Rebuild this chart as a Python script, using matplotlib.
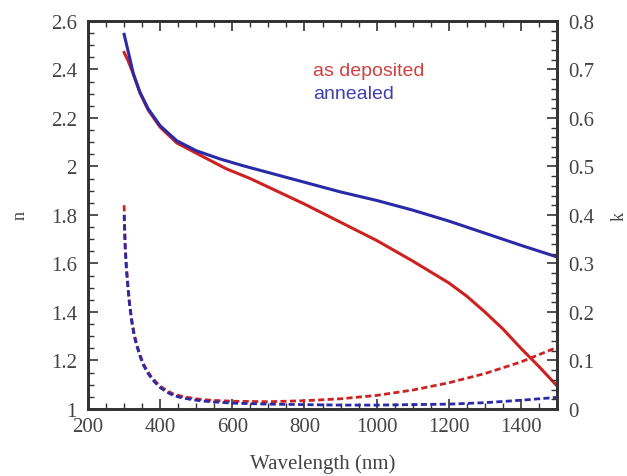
import matplotlib
matplotlib.use("Agg")
import matplotlib.pyplot as plt
from matplotlib.ticker import MultipleLocator, FormatStrFormatter

# n data (wavelength nm)
wl_red_n = [300, 310, 326, 344, 367, 400, 446, 500, 540, 584, 650, 700, 800,
            900, 1000, 1100, 1200, 1250, 1300, 1350, 1400, 1450, 1500]
red_n = [2.47, 2.44, 2.38, 2.303, 2.232, 2.162, 2.097, 2.055, 2.024, 1.99, 1.95,
         1.915, 1.845, 1.77, 1.695, 1.61, 1.52, 1.465, 1.40, 1.33, 1.25, 1.175, 1.095]
wl_blue_n = [300, 312, 326, 344, 367, 400, 446, 500, 566, 630, 700, 800, 900,
             1000, 1100, 1200, 1300, 1400, 1500]
blue_n = [2.545, 2.47, 2.38, 2.306, 2.237, 2.168, 2.106, 2.065, 2.031, 2.003,
          1.975, 1.935, 1.895, 1.86, 1.82, 1.775, 1.725, 1.675, 1.627]

# k data
wl_k = [300, 301, 303, 306, 310, 315, 321, 328, 335, 344, 353, 364, 376, 388,
        400, 418, 436, 460, 483, 510, 540, 600, 700, 800, 900, 1000, 1100,
        1200, 1300, 1400, 1500]
red_k = [0.42, 0.39, 0.34, 0.30, 0.26, 0.22, 0.185, 0.155, 0.134, 0.112, 0.094,
         0.079, 0.066, 0.056, 0.047, 0.038, 0.031, 0.026, 0.023, 0.020, 0.018,
         0.016, 0.015, 0.017, 0.021, 0.028, 0.039, 0.054, 0.073, 0.097, 0.127]
blue_k = [0.40, 0.375, 0.33, 0.29, 0.255, 0.215, 0.18, 0.15, 0.13, 0.109, 0.091,
          0.076, 0.063, 0.053, 0.044, 0.035, 0.028, 0.023, 0.020, 0.017, 0.015,
          0.012, 0.010, 0.009, 0.008, 0.008, 0.009, 0.010, 0.013, 0.018, 0.024]

labels = ["as deposited", "annealed"]
RED = "#cc2222"
BLUE = "#2a2aa8"

fig = plt.figure(figsize=(6.27, 4.77), dpi=100)
ax = fig.add_axes([0.1404, 0.1405, 0.748, 0.8134])
ax2 = ax.twinx()

serif = "Liberation Serif"

ax.plot(wl_red_n, red_n, color=RED, lw=2.2, zorder=3)
ax.plot(wl_blue_n, blue_n, color=BLUE, lw=2.2, zorder=4)
ax2.plot(wl_k, red_k, color=RED, lw=2.0, dashes=(2.2, 1.2))
ax2.plot(wl_k, blue_k, color=BLUE, lw=2.0, dashes=(2.2, 1.2))

ax.set_xlim(200, 1500)
ax.set_ylim(1, 2.6)
ax2.set_ylim(0, 0.8)

ax.xaxis.set_major_locator(MultipleLocator(200))
ax.xaxis.set_minor_locator(MultipleLocator(50))
ax.yaxis.set_major_locator(MultipleLocator(0.2))
ax.yaxis.set_minor_locator(MultipleLocator(0.05))
ax2.yaxis.set_major_locator(MultipleLocator(0.1))
ax2.yaxis.set_minor_locator(MultipleLocator(0.02))
ax.yaxis.set_major_formatter(FormatStrFormatter('%g'))
ax2.yaxis.set_major_formatter(FormatStrFormatter('%g'))

ax.tick_params(axis='both', which='both', direction='in', top=True, right=False,
               labelsize=15, colors='#333333', labelcolor='#444444')
ax.tick_params(which='major', length=7, width=1.2)
ax.tick_params(which='minor', length=4, width=1.0)
ax.tick_params(axis='x', pad=6)
ax.tick_params(axis='y', pad=8)
ax2.tick_params(axis='y', which='both', direction='in', labelsize=15,
                colors='#333333', labelcolor='#444444', pad=8)
ax2.tick_params(which='major', length=7, width=1.2)
ax2.tick_params(which='minor', length=4, width=1.0)

for a in (ax, ax2):
    for s in a.spines.values():
        s.set_linewidth(2)
        s.set_color('#333333')
    for lab in a.get_xticklabels() + a.get_yticklabels():
        lab.set_family(serif)

ax.set_xlabel("Wavelength (nm)", family=serif, fontsize=15, color='#444444', labelpad=12)
ax.set_ylabel("n", family=serif, fontsize=13, color='#444444', labelpad=16)
ax2.set_ylabel("k", family=serif, fontsize=13, color='#444444', labelpad=12)

ax.text(824, 2.394, labels[0], color="#d04040", fontsize=14,
        family="Liberation Sans", va='center', ha='left')
ax.text(824, 2.30, labels[1], color="#4040b0", fontsize=14,
        family="Liberation Sans", va='center', ha='left')

fig.savefig("out.png", dpi=100)
